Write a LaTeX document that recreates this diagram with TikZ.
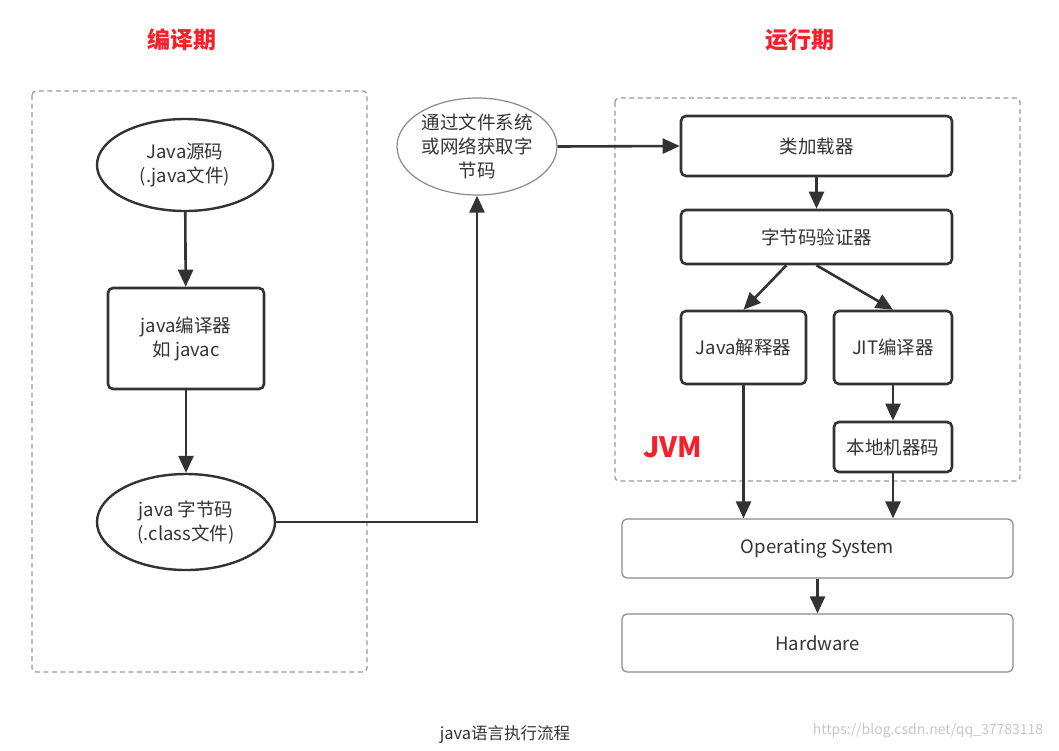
\documentclass[tikz,border=0pt]{standalone}
\usepackage{fontspec}
\setmainfont{Noto Sans CJK SC}
\usetikzlibrary{arrows.meta,shapes.geometric,calc}
\definecolor{ink}{HTML}{333333}
\definecolor{lgray}{HTML}{8A8A8A}
\definecolor{dgray}{HTML}{9A9A9A}
\definecolor{jred}{HTML}{F5202A}
\tikzset{
  txt/.style={text=ink,font=\fontsize{18.5}{24}\selectfont,align=center},
  darkbox/.style={txt,draw=ink,line width=2.6pt,rounded corners=5pt,inner sep=0pt},
  graybox/.style={txt,draw=lgray,line width=1.2pt,rounded corners=5pt,inner sep=0pt},
  oval/.style={txt,ellipse,draw=ink,line width=2.4pt,inner sep=0pt},
  grayoval/.style={txt,ellipse,draw=lgray,line width=1.2pt,inner sep=0pt},
  region/.style={draw=dgray,line width=1.3pt,dash pattern=on 5pt off 3.5pt,rounded corners=4pt},
  arr/.style={draw=ink,line width=2.6pt,-{Triangle[length=17pt,width=15pt]}},
  title/.style={text=jred,font=\fontsize{23}{26}\selectfont\bfseries},
}
\begin{document}
\begin{tikzpicture}[x=1pt,y=-1pt]
\useasboundingbox (0,0) rectangle (1059,750);
% regions
\draw[region] (32,91) rectangle (367,672);
\draw[region] (615,98) rectangle (1020,481);
% titles
\node[title] (t1) at (182,40) {编译期};
\node[title] (t2) at (800,40) {运行期};
\node[text=jred,font=\fontsize{28}{30}\selectfont\bfseries] (jvm) at (673,447) {JVM};
% left column
\node[oval,minimum width=176pt,minimum height=92pt] (src) at (185,165) {Java源码\\(.java文件)};
\node[darkbox,minimum width=156pt,minimum height=101pt] (jc) at (186,338.5) {java编译器\\如 javac};
\node[oval,minimum width=178pt,minimum height=96pt] (bc) at (186,522) {java 字节码\\(.class文件)};
% middle
\node[grayoval,minimum width=160pt,minimum height=97pt] (net) at (477,146.5) {通过文件系统\\或网络获取字\\节码};
% JVM
\node[darkbox,minimum width=271pt,minimum height=60pt] (cl) at (816.5,146) {类加载器};
\node[darkbox,minimum width=271pt,minimum height=54pt] (ver) at (816.5,237) {字节码验证器};
\node[darkbox,minimum width=125pt,minimum height=73pt] (ji) at (743.5,347.5) {Java解释器};
\node[darkbox,minimum width=118pt,minimum height=73pt] (jit) at (893,347.5) {JIT编译器};
\node[darkbox,minimum width=118pt,minimum height=50pt] (nm) at (893,447) {本地机器码};
% bottom
\node[graybox,minimum width=391pt,minimum height=59pt] (os) at (817.5,548.5) {Operating System};
\node[graybox,minimum width=391pt,minimum height=58pt] (hw) at (817.5,643) {Hardware};
% connectors
\draw[arr] (src) -- (jc);
\draw[arr] (jc) -- (bc);
\draw[arr] (bc.east) -| (net.south);
\draw[arr] (net.east) -- (cl.west);
\draw[arr] (cl) -- (ver);
\draw[arr] ($(ver.south west)!0.39!(ver.south east)$) -- (ji.north);
\draw[arr] (ver.south) -- (jit.north);
\draw[arr] (jit) -- (nm);
\draw[arr] (ji.south) -- (ji.south |- os.north);
\draw[arr] (nm.south) -- (nm.south |- os.north);
\draw[arr] (os) -- (hw);
% captions
\node[text=ink,font=\fontsize{16.5}{18}\selectfont] (cap) at (505,735) {java语言执行流程};
\node[text=black!22,font=\fontsize{14}{16}\selectfont] (wm) at (928,731) {https://blog.csdn.net/qq\_37783118};
\end{tikzpicture}
\end{document}
